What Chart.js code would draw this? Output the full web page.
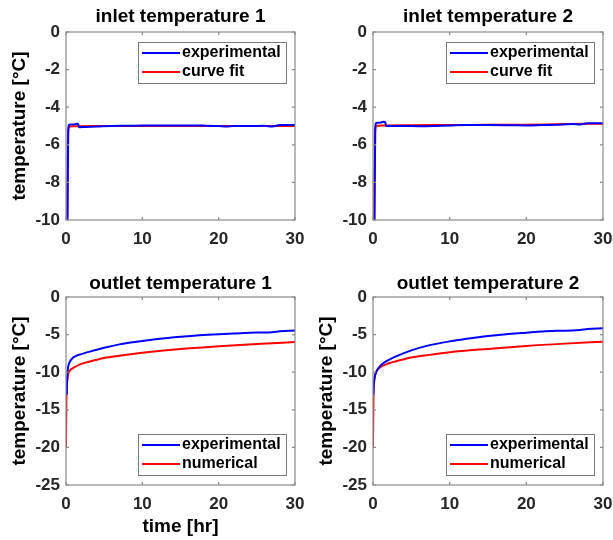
<!DOCTYPE html>
<html>
<head>
<meta charset="utf-8">
<script src="https://cdn.jsdelivr.net/npm/chart.js@4.4.1/dist/chart.umd.min.js"></script>
<style>
  body { margin: 0; background: #fff; }
  #wrap { position: relative; width: 613px; height: 540px; }
  canvas { position: absolute; }
</style>
</head>
<body>
<div id="wrap">
  <canvas id="c1" width="306" height="270" style="left:0;top:0"></canvas>
  <canvas id="c2" width="307" height="270" style="left:306px;top:0"></canvas>
  <canvas id="c3" width="306" height="270" style="left:0;top:270px"></canvas>
  <canvas id="c4" width="307" height="270" style="left:306px;top:270px"></canvas>
</div>
<script>
// inlet temperature 1
const exp1T = [0.2, 0.25, 0.3, 0.4, 0.6, 1.0, 1.4, 1.6, 1.7, 2.5, 4, 6, 8, 10, 12, 15, 18, 20, 21, 22, 24, 26, 27, 28, 30];
const exp1V = [-10, -7, -5.2, -4.93, -4.92, -4.92, -4.88, -4.9, -5.06, -5.05, -5.03, -5.0, -4.99, -4.98, -4.97, -4.97, -4.98, -5.0, -5.03, -5.0, -5.0, -4.99, -5.03, -4.95, -4.95];
const fit1T = [0.15, 0.25, 0.35, 0.5, 1, 5, 10, 20, 30];
const fit1V = [-10, -5.6, -5.1, -5.03, -5.01, -5.0, -5.0, -5.0, -5.0];

// inlet temperature 2
const exp2T = [0.2, 0.25, 0.3, 0.4, 0.6, 1.0, 1.3, 1.6, 1.7, 2.5, 4, 6, 8, 10, 12, 15, 18, 20, 22, 24, 26, 27, 28, 30];
const exp2V = [-10, -7, -5.1, -4.85, -4.83, -4.82, -4.78, -4.8, -5.0, -5.0, -5.0, -5.01, -5.0, -4.98, -4.95, -4.95, -4.96, -4.97, -4.95, -4.93, -4.9, -4.92, -4.85, -4.85];
const fit2T = [0.15, 0.25, 0.35, 0.5, 1, 2, 5, 10, 15, 20, 25, 30];
const fit2V = [-10, -5.6, -5.05, -4.99, -4.98, -4.97, -4.96, -4.95, -4.94, -4.93, -4.9, -4.88];

// outlet temperature 1
const exp3T = [0.1, 0.15, 0.2, 0.3, 0.5, 0.8, 1, 1.5, 2, 3, 5, 7, 10, 12, 15, 18, 20, 22, 25, 27, 28, 30];
const exp3V = [-13, -11, -10, -9.2, -8.6, -8.2, -8.0, -7.75, -7.6, -7.3, -6.75, -6.3, -5.85, -5.6, -5.3, -5.05, -4.95, -4.85, -4.72, -4.68, -4.55, -4.45];
const num3T = [0, 0.05, 0.1, 0.2, 0.3, 0.5, 1, 2, 3, 5, 7, 10, 15, 20, 25, 30];
const num3V = [-20, -14, -12, -10.8, -10.2, -9.8, -9.4, -8.9, -8.6, -8.1, -7.8, -7.4, -6.9, -6.55, -6.25, -6.0];

// outlet temperature 2
const exp4T = [0.05, 0.1, 0.2, 0.3, 0.5, 1, 1.5, 2, 3, 5, 7, 10, 12, 15, 18, 20, 22, 24, 25, 27, 28, 30];
const exp4V = [-13, -11.5, -10.8, -10.3, -9.8, -9.1, -8.7, -8.4, -7.9, -7.1, -6.5, -5.9, -5.6, -5.2, -4.9, -4.75, -4.6, -4.5, -4.5, -4.4, -4.25, -4.15];
const num4T = [0, 0.05, 0.1, 0.2, 0.3, 0.5, 1, 2, 3, 5, 7, 10, 15, 20, 25, 30];
const num4V = [-20, -14, -12, -10.9, -10.3, -9.8, -9.3, -8.85, -8.55, -8.05, -7.75, -7.35, -6.9, -6.5, -6.2, -5.95];

const xTicks = [0, 10, 20, 30];
const inletTicks = [0, -2, -4, -6, -8, -10];
const outletTicks = [0, -5, -10, -15, -20, -25];

Chart.defaults.font.family = "'Liberation Sans', Arial, sans-serif";
Chart.defaults.font.weight = 'bold';
Chart.defaults.color = '#262626';

const toXY = (t, v) => t.map((x, i) => ({ x: x, y: v[i] }));

// MATLAB-style box with inward ticks
const framePlugin = {
    id: 'frame',
    afterDatasetsDraw(chart) {
        const { ctx, chartArea: a, scales } = chart;
        const len = 3;
        ctx.save();
        ctx.strokeStyle = '#8a8a8a';
        ctx.lineWidth = 1.2;
        ctx.strokeRect(a.left, a.top, a.right - a.left, a.bottom - a.top);
        ctx.beginPath();
        scales.x.ticks.forEach(t => {
            const px = scales.x.getPixelForValue(t.value);
            ctx.moveTo(px, a.bottom); ctx.lineTo(px, a.bottom - len);
            ctx.moveTo(px, a.top); ctx.lineTo(px, a.top + len);
        });
        scales.y.ticks.forEach(t => {
            const py = scales.y.getPixelForValue(t.value);
            ctx.moveTo(a.left, py); ctx.lineTo(a.left + len, py);
            ctx.moveTo(a.right, py); ctx.lineTo(a.right - len, py);
        });
        ctx.stroke();
        ctx.restore();
    }
};

// boxed legend inside the plot area
const boxLegend = {
    id: 'boxLegend',
    afterDraw(chart, args, opts) {
        const { ctx, chartArea: a } = chart;
        const w = 148, h = 41;
        const x = a.right - 9 - w;
        const y = opts.where === 'bottom' ? a.bottom - 10 - h : a.top + 10;
        ctx.save();
        ctx.fillStyle = '#fff';
        ctx.fillRect(x, y, w, h);
        ctx.strokeStyle = '#7a7a7a';
        ctx.lineWidth = 1;
        ctx.strokeRect(x + 0.5, y + 0.5, w, h);
        ctx.font = "bold 16px 'Liberation Sans', Arial, sans-serif";
        ctx.textBaseline = 'middle';
        chart.data.datasets.forEach((ds, i) => {
            const ry = y + 11 + i * 19;
            ctx.strokeStyle = ds.borderColor;
            ctx.lineWidth = 2;
            ctx.beginPath();
            ctx.moveTo(x + 4, ry); ctx.lineTo(x + 42, ry);
            ctx.stroke();
            ctx.fillStyle = '#000';
            ctx.fillText(ds.label, x + 44, ry);
        });
        ctx.restore();
    }
};

function makeChart(id, opt) {
    return new Chart(document.getElementById(id), {
        type: 'line',
        data: {
            datasets: [
                { label: 'experimental', data: toXY(opt.t1, opt.v1), borderColor: '#0000ff' },
                { label: opt.name2, data: toXY(opt.t2, opt.v2), borderColor: '#ff0000' }
            ]
        },
        options: {
            responsive: false,
            animation: false,
            devicePixelRatio: 1,
            elements: {
                point: { radius: 0 },
                line: { borderWidth: 2, cubicInterpolationMode: 'monotone' }
            },
            layout: { padding: { left: 0, right: opt.right, top: 0, bottom: 0 } },
            plugins: {
                legend: { display: false },
                tooltip: { enabled: false },
                title: {
                    display: true,
                    fullSize: false,
                    text: opt.title,
                    color: '#000',
                    font: { size: 19, weight: 'bold' },
                    padding: opt.titlePad
                },
                boxLegend: { where: opt.legend }
            },
            scales: {
                x: {
                    type: 'linear',
                    min: 0,
                    max: 30,
                    afterBuildTicks: s => { s.ticks = xTicks.map(v => ({ value: v })); },
                    afterFit: s => { s.height = opt.xh; },
                    grid: { display: true, drawOnChartArea: false, drawTicks: true, tickLength: 9, tickColor: 'rgba(0,0,0,0)' },
                    border: { display: false },
                    ticks: { font: { size: 17 }, padding: 0, maxRotation: 0 },
                    title: {
                        display: opt.xTitle,
                        text: 'time [hr]',
                        color: '#000',
                        font: { size: 19, weight: 'bold' },
                        padding: { top: 0, bottom: 2 }
                    }
                },
                y: {
                    type: 'linear',
                    min: opt.ticks[opt.ticks.length - 1],
                    max: 0,
                    afterBuildTicks: s => { s.ticks = opt.ticks.map(v => ({ value: v })); },
                    afterFit: s => { s.width = opt.yw; },
                    grid: { display: false, drawTicks: false },
                    border: { display: false },
                    ticks: { font: { size: 17 }, padding: 6 },
                    title: {
                        display: opt.yTitle,
                        text: 'temperature [°C]',
                        color: '#000',
                        font: { size: 19, weight: 'bold' },
                        padding: { top: opt.yTitlePad, bottom: 0 }
                    }
                }
            }
        },
        plugins: [framePlugin, boxLegend]
    });
}

makeChart('c1', {
    title: 'inlet temperature 1', name2: 'curve fit',
    t1: exp1T, v1: exp1V, t2: fit1T, v2: fit1V, ticks: inletTicks,
    yw: 66, xh: 50, right: 11, titlePad: { top: 5, bottom: 4.2 },
    yTitle: true, yTitlePad: 8, xTitle: false, legend: 'top'
});
makeChart('c2', {
    title: 'inlet temperature 2', name2: 'curve fit',
    t1: exp2T, v1: exp2V, t2: fit2T, v2: fit2V, ticks: inletTicks,
    yw: 67, xh: 50, right: 10, titlePad: { top: 5, bottom: 4.2 },
    yTitle: false, yTitlePad: 8, xTitle: false, legend: 'top'
});
makeChart('c3', {
    title: 'outlet temperature 1', name2: 'numerical',
    t1: exp3T, v1: exp3V, t2: num3T, v2: num3V, ticks: outletTicks,
    yw: 66, xh: 55, right: 11, titlePad: { top: 2, bottom: 2.2 },
    yTitle: true, yTitlePad: 8.5, xTitle: true, legend: 'bottom'
});
makeChart('c4', {
    title: 'outlet temperature 2', name2: 'numerical',
    t1: exp4T, v1: exp4V, t2: num4T, v2: num4V, ticks: outletTicks,
    yw: 67, xh: 55, right: 10, titlePad: { top: 2, bottom: 2.2 },
    yTitle: true, yTitlePad: 9.5, xTitle: false, legend: 'bottom'
});
</script>
</body>
</html>
